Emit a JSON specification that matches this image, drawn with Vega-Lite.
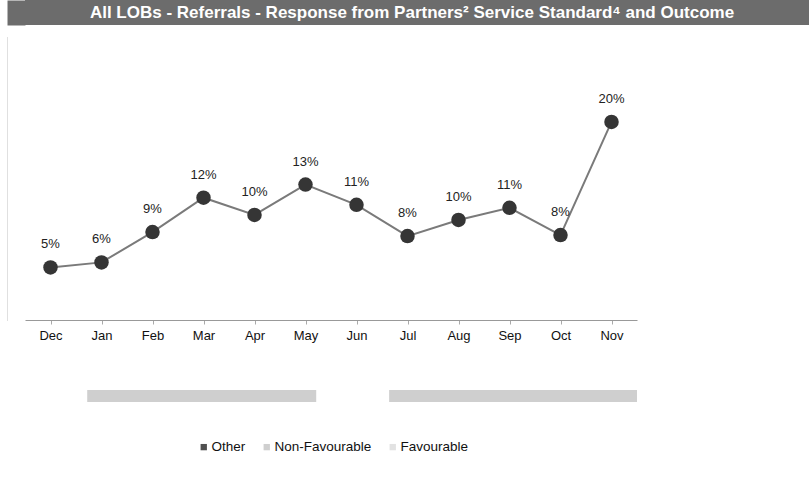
{
  "$schema": "https://vega.github.io/schema/vega-lite/v6.json",
  "background": "white",
  "padding": {"left": 7, "top": 0, "right": 0, "bottom": 0},
  "config": {
    "font": "Liberation Sans",
    "view": {"stroke": null}
  },
  "datasets": {
    "heading": [{"title": "All LOBs - Referrals - Response from Partners² Service Standard⁴ and Outcome"}],
    "monthly": [
      {"month": "Dec", "value": 0.052},
      {"month": "Jan", "value": 0.057},
      {"month": "Feb", "value": 0.087},
      {"month": "Mar", "value": 0.121},
      {"month": "Apr", "value": 0.104},
      {"month": "May", "value": 0.134},
      {"month": "Jun", "value": 0.114},
      {"month": "Jul", "value": 0.083},
      {"month": "Aug", "value": 0.099},
      {"month": "Sep", "value": 0.111},
      {"month": "Oct", "value": 0.084},
      {"month": "Nov", "value": 0.196}
    ],
    "outcomes": [
      {"outcome": "Non-Favourable", "start": 1.22, "end": 5.71},
      {"outcome": "Non-Favourable", "start": 7.14, "end": 12}
    ]
  },
  "concat": [
    {
      "width": 784,
      "height": 25,
      "view": {"fill": "#6c6c6c", "stroke": null},
      "data": {"name": "heading"},
      "mark": {"type": "text", "color": "white", "fontSize": 17, "fontWeight": "bold", "baseline": "middle", "dx": -5},
      "encoding": {
        "text": {"field": "title"},
        "y": {
          "field": "title", "type": "nominal",
          "axis": {"title": null, "labels": false, "ticks": false, "grid": false, "domainColor": "#6c6c6c", "domainWidth": 18, "offset": 9}
        }
      }
    },
    {
      "vconcat": [
        {
          "width": 612,
          "height": 283,
          "data": {"name": "monthly"},
          "encoding": {
            "x": {
              "field": "month", "type": "ordinal", "sort": null,
              "scale": {"type": "point", "padding": 0.5},
              "axis": {"title": null, "labelAngle": 0, "labelFontSize": 13, "labelColor": "#111", "labelPadding": 5, "tickSize": 4, "tickColor": "#aaa", "domainColor": "#999", "grid": false}
            },
            "y": {
              "field": "value", "type": "quantitative",
              "scale": {"domain": [0, 0.28], "nice": false},
              "axis": {"title": null, "labels": false, "ticks": false, "grid": false, "domainColor": "#c0c0c0", "domainDash": [1, 1], "offset": 18}
            }
          },
          "layer": [
            {"mark": {"type": "line", "color": "#7a7a7a", "strokeWidth": 2}},
            {"mark": {"type": "point", "filled": true, "size": 210, "color": "#353535", "opacity": 1}},
            {"mark": {"type": "text", "dy": -23, "fontSize": 13, "color": "#222"}, "encoding": {"text": {"field": "value", "format": ".0%"}}}
          ]
        },
        {
          "width": 612,
          "height": 12,
          "data": {"name": "outcomes"},
          "mark": {"type": "rect"},
          "encoding": {
            "x": {"field": "start", "type": "quantitative", "scale": {"domain": [0, 12], "nice": false}, "axis": null},
            "x2": {"field": "end"},
            "color": {
              "field": "outcome", "type": "nominal",
              "scale": {"domain": ["Other", "Non-Favourable", "Favourable"], "range": ["#505050", "#cfcfcf", "#e2e2e2"]},
              "legend": {"title": null, "orient": "none", "legendX": 172, "legendY": 440, "direction": "horizontal", "symbolType": "square", "symbolSize": 40, "labelFontSize": 13.5, "labelColor": "#111", "columnPadding": 14, "labelOffset": 1, "padding": 0}
            }
          }
        }
      ],
      "spacing": 48
    }
  ],
  "columns": 1,
  "align": "none",
  "spacing": 12
}
